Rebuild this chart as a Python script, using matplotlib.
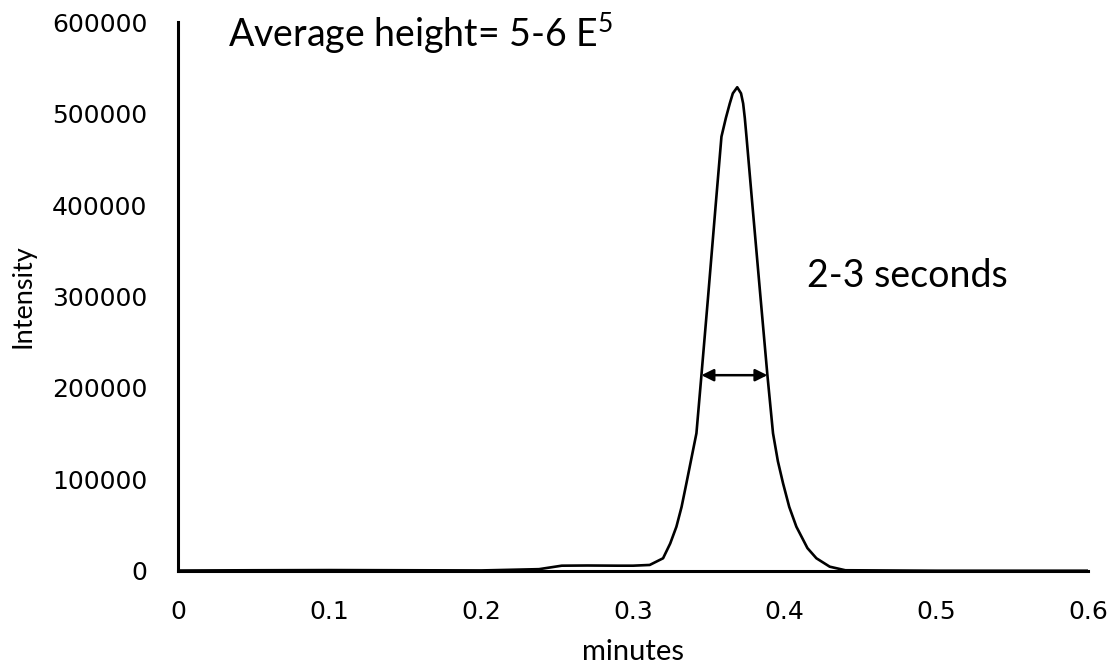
import matplotlib
matplotlib.use('Agg')
import matplotlib.pyplot as plt

# chromatogram trace (minutes, intensity)
minutes = [0.0, 0.05, 0.10, 0.15, 0.20, 0.238, 0.253, 0.27, 0.29, 0.30, 0.311,
           0.3198, 0.3245, 0.3286, 0.3320, 0.3352, 0.3418, 0.3451, 0.3495, 0.3545,
           0.3583, 0.3612, 0.3638, 0.3658, 0.3687, 0.3712, 0.3726, 0.3737, 0.3748,
           0.3787, 0.3840, 0.3886, 0.3923, 0.3955, 0.3989, 0.4030, 0.4077, 0.4150,
           0.4209, 0.4297, 0.44, 0.50, 0.55, 0.60]
intensity = [500, 800, 1000, 800, 600, 2000, 5800, 6000, 5800, 5800, 6600,
             13900, 30000, 48400, 70000, 95900, 150500, 214000, 300000, 400000,
             474700, 495000, 511000, 522000, 528700, 522000, 511000, 495000, 474700,
             400000, 300000, 214000, 150500, 120000, 95900, 70000, 48400, 25000,
             13900, 4700, 800, 300, 300, 300]

x_ticks = [0, 0.1, 0.2, 0.3, 0.4, 0.5, 0.6]
x_tick_labels = ['0', '0.1', '0.2', '0.3', '0.4', '0.5', '0.6']
y_ticks = [0, 100000, 200000, 300000, 400000, 500000, 600000]

# half-height width marker
fwhm_left, fwhm_right, fwhm_level = 0.3451, 0.3886, 214000

plt.rcParams['mathtext.fontset'] = 'custom'
plt.rcParams['mathtext.rm'] = 'Lato'

fig = plt.figure(figsize=(11.1, 6.69), dpi=100)
ax = fig.add_axes([0.1604, 0.1465, 0.8198, 0.8206])

ax.plot(minutes, intensity, color='black', linewidth=1.9)

ax.set_xlim(0, 0.6)
ax.set_ylim(0, 600000)
ax.set_xticks(x_ticks)
ax.set_xticklabels(x_tick_labels)
ax.set_yticks(y_ticks)
ax.set_yticklabels([str(v) for v in y_ticks])
ax.tick_params(length=0, labelsize=18)
ax.tick_params(axis='x', pad=21)
ax.tick_params(axis='y', pad=22)

for side in ['top', 'right']:
    ax.spines[side].set_visible(False)
for side in ['left', 'bottom']:
    ax.spines[side].set_linewidth(2.2)

ax.set_xlabel('minutes', fontsize=21, family='Lato', va='baseline')
ax.xaxis.set_label_coords(0.5, -0.163)
ax.set_ylabel('Intensity', fontsize=19.5, family='Lato', labelpad=12)

ax.annotate('', xy=(fwhm_left, fwhm_level), xytext=(fwhm_right, fwhm_level),
            arrowprops=dict(arrowstyle='<|-|>', color='black', lw=1.8,
                            mutation_scale=18, shrinkA=0, shrinkB=0))

ax.text(0.033, 571600, 'Average height= 5-6 E$^5$', fontsize=27,
        family='Lato', va='baseline', ha='left')
ax.text(0.415, 310400, '2-3 seconds', fontsize=27, family='Lato',
        va='baseline', ha='left')

fig.savefig('out.png', dpi=100)
